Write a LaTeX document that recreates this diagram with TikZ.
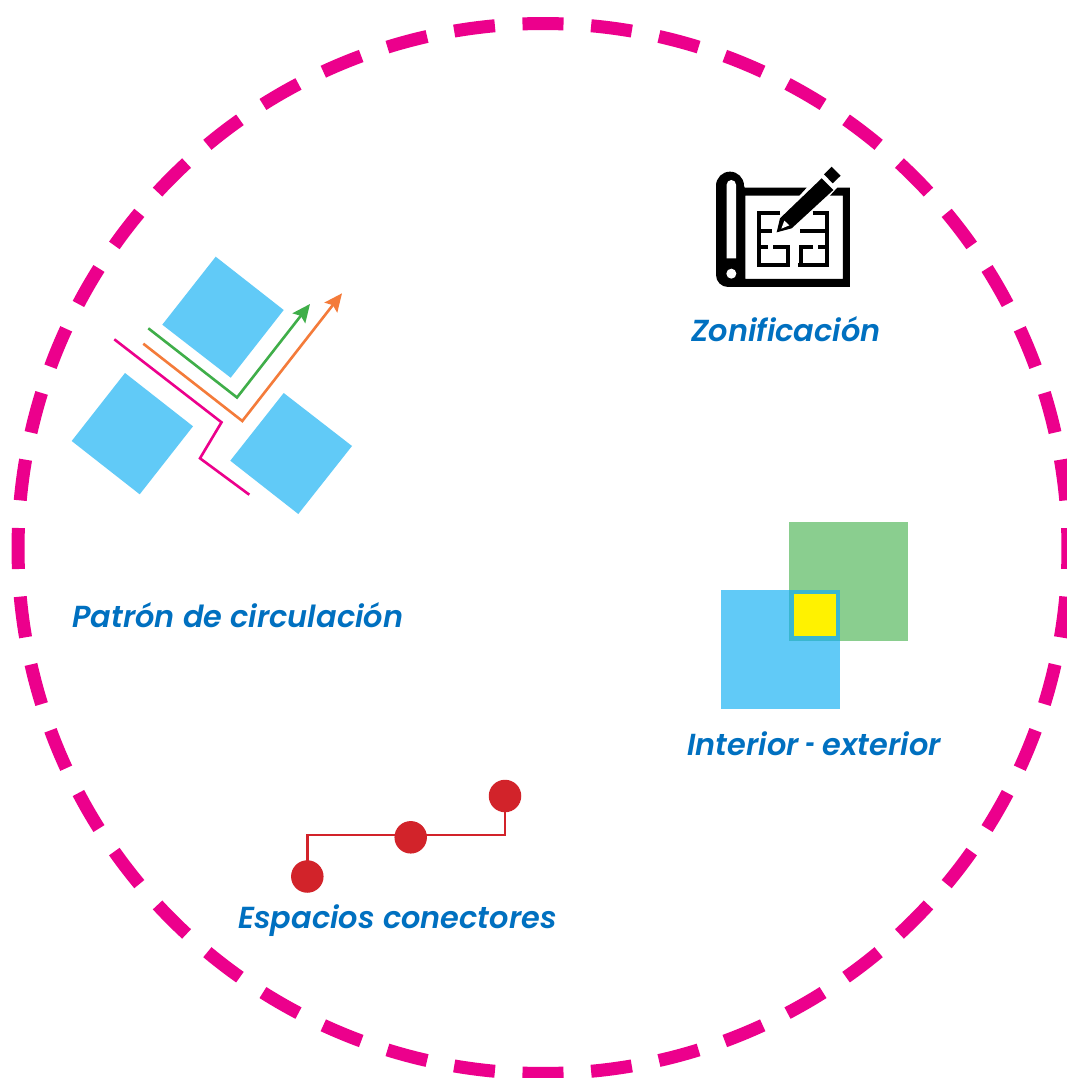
\documentclass[tikz,border=0pt]{standalone}
\usepackage{fontspec}
\setmainfont{Poppins}[BoldItalicFont={Poppins SemiBold Italic}]
\usetikzlibrary{arrows.meta}
\definecolor{ringpink}{HTML}{EC008C}
\definecolor{sqblue}{HTML}{61CAF7}
\definecolor{sqgreen}{HTML}{8ACE8F}
\definecolor{sqteal}{HTML}{3AB6D0}
\definecolor{sqyellow}{HTML}{FFF200}
\definecolor{lblue}{HTML}{0070C0}
\definecolor{lorange}{HTML}{F47B3A}
\definecolor{lgreen}{HTML}{3FAE49}
\definecolor{lred}{HTML}{D2232A}
\tikzset{
  ringdash/.style={draw=ringpink,line width=13pt},
  labeltext/.style={text=lblue,font=\fontsize{30.4}{33}\selectfont\bfseries\itshape,inner sep=0pt,anchor=base west},
  pathline/.style={line width=2.6pt},
  arrowline/.style={line width=2.6pt,-{Stealth[length=18pt,width=16pt,inset=3pt]}},
  reddot/.style={circle,fill=lred,minimum size=32.5pt,inner sep=0pt},
  planline/.style={line width=4pt,black,line cap=butt},
}
\begin{document}
\begin{tikzpicture}[x=1pt,y=-1pt]
\useasboundingbox (0,0) rectangle (1066,1078);
\fill[white] (0,0) rectangle (1066,1078);
\foreach \i in {0,...,47}{
  \pgfmathsetmacro\a{\i*7.5-2.24}
  \pgfmathsetmacro\b{\i*7.5+2.24}
  \draw[ringdash] ({543+525*cos(\a)},{548.5+525*sin(\a)}) arc[start angle=\a,end angle=\b,radius=525];
}
% circulation squares
\fill[sqblue] (215.7,256.7)--(283.7,310)--(230.7,377.7)--(162.3,324.7)--cycle;
\fill[sqblue] (125,373)--(193,426.3)--(139.7,494.3)--(71.7,441)--cycle;
\fill[sqblue] (283.7,393)--(352,446)--(298.3,514)--(230.3,460.7)--cycle;
\draw[pathline,ringpink] (114.3,339.3)--(221.5,422.3)--(200,458.3)--(249.3,494.7);
\draw[arrowline,lorange] (143.3,343.7)--(242.3,421)--(342,293.3);
\draw[arrowline,lgreen] (148.3,328.3)--(237,397.5)--(310,304);
\node[labeltext] (pc) at (72,627) {Patrón de circulación};
% interior-exterior
\fill[sqgreen] (789,522) rectangle (908,641);
\fill[sqblue] (721,590) rectangle (840,709);
\fill[sqteal] (789,590) rectangle (840,641);
\fill[sqyellow] (794,594) rectangle (836,636);
\node[labeltext] (ie) at (687,755) {Interior\hspace{-1pt} \scalebox{0.55}[1]{-} \hspace{-1pt}exterior};
% connectors
\node[reddot] (d1) at (307.3,876.5) {};
\node[reddot] (d2) at (410.7,837.3) {};
\node[reddot] (d3) at (505,796) {};
\draw[lred,line width=2.7pt] (d1.center)--(307.3,835)--(505,835)--(d3.center);
\node[labeltext] (ec) at (238,928) {Espacios conectores};
% icon
\begin{scope}[shift={(690,150)},x=0.3333pt,y=-0.3333pt]
 \fill[black] (78,107) arc[start angle=180,end angle=360,radius=42] -- (164,113) -- (350,113) -- (328,137) -- (166,137) -- (166,387) -- (459,387) -- (459,137) -- (420,137) -- (442,113) -- (480,113) -- (480,411) -- (114,411) arc[start angle=90,end angle=180,radius=36] -- cycle;
 \fill[white] (110,104) arc[start angle=180,end angle=360,radius=14] -- (138,325) -- (110,325) -- cycle;
 \fill[white] (124,371) circle[radius=15];
 \draw[planline] (270,188)--(207,188)--(207,345)--(294,345)--(294,292)--(248,292);
 \draw[planline] (207,242)--(245,242);
 \draw[planline] (207,290)--(235,290);
 \draw[planline] (368,188)--(412,188)--(412,345)--(325,345);
 \draw[planline] (330,242)--(412,242);
 \draw[planline] (385,292)--(412,292);
 \draw[planline] (370,292)--(332,292)--(332,345);
 \fill[black] (395,85)--(430,120)--(305,235)--(260,247)--(270,205)--cycle;
 \fill[white] (283,212)--(298,226)--(274,236)--cycle;
 \fill[black] (402,73)--(425,50)--(452,77)--(428,100)--cycle;
\end{scope}
\node[labeltext] (zo) at (691,341) {Zonificación};
\end{tikzpicture}
\end{document}
